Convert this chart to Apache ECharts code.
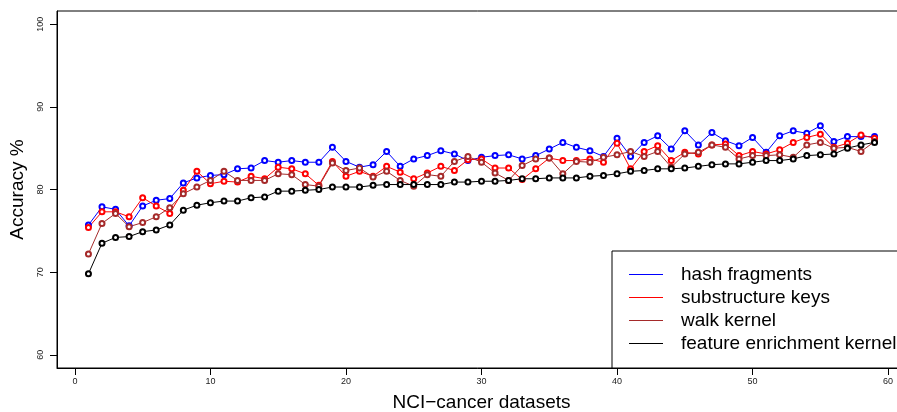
<!DOCTYPE html>
<html>
<head>
<meta charset="utf-8">
<script src="https://cdn.jsdelivr.net/npm/echarts@6/dist/echarts.min.js"></script>
<style>
  html, body { margin: 0; padding: 0; background: #fff; }
  #chart { width: 897px; height: 412px; }
</style>
</head>
<body>
<div id="chart"></div>
<script>
// datasets 1..59
const datasets = Array.from({ length: 59 }, (_, i) => i + 1)
const xTicks = [0, 10, 20, 30, 40, 50, 60]
const yTicks = [60, 70, 80, 90, 100]

const hashFragments = [
  75.7, 77.9, 77.6, 75.6, 78.0, 78.7, 78.9, 80.8, 81.4, 81.7,
  81.8, 82.5, 82.6, 83.5, 83.3, 83.5, 83.3, 83.3, 85.1, 83.4,
  82.7, 83.0, 84.6, 82.8, 83.7, 84.1, 84.7, 84.3, 83.5, 83.9,
  84.1, 84.2, 83.7, 84.1, 84.9, 85.7, 85.1, 84.7, 84.0, 86.2,
  84.0, 85.7, 86.5, 84.9, 87.1, 85.4, 86.9, 85.9, 85.3, 86.3,
  84.5, 86.5, 87.1, 86.8, 87.7, 85.8, 86.4, 86.4, 86.4
]
const substructureKeys = [
  75.4, 77.3, 77.3, 76.7, 79.0, 78.0, 77.1, 79.9, 82.2, 80.7,
  81.0, 80.9, 81.6, 81.3, 82.7, 82.5, 81.9, 80.5, 83.4, 81.6,
  82.2, 81.6, 82.8, 82.1, 81.3, 82.0, 82.8, 82.3, 83.6, 83.7,
  82.6, 82.6, 81.2, 82.5, 83.8, 83.5, 83.5, 83.7, 83.3, 85.6,
  82.5, 84.6, 85.3, 83.5, 84.5, 84.3, 85.4, 85.5, 84.1, 84.6,
  84.3, 84.8, 85.7, 86.3, 86.7, 85.1, 85.6, 86.6, 86.2
]
const walkKernel = [
  72.2, 75.9, 77.1, 75.5, 76.0, 76.7, 77.8, 79.5, 80.3, 81.1,
  82.2, 81.1, 81.1, 81.1, 81.9, 81.8, 80.6, 80.4, 83.2, 82.3,
  82.6, 81.5, 82.2, 81.1, 80.4, 81.8, 81.6, 83.4, 84.0, 83.3,
  82.0, 81.1, 82.9, 83.7, 83.8, 81.9, 83.4, 83.3, 83.9, 84.2,
  84.6, 84.0, 84.6, 82.7, 84.3, 84.5, 85.4, 85.1, 83.7, 84.1,
  84.1, 84.2, 83.9, 85.4, 85.7, 85.0, 85.1, 84.6, 85.8
]
const featureEnrichment = [
  69.8, 73.5, 74.2, 74.3, 74.9, 75.1, 75.7, 77.5, 78.1, 78.4,
  78.6, 78.6, 79.0, 79.1, 79.8, 79.8, 79.9, 80.0, 80.3, 80.3,
  80.3, 80.5, 80.6, 80.6, 80.6, 80.6, 80.6, 80.9, 80.9, 81.0,
  81.0, 81.1, 81.3, 81.3, 81.4, 81.4, 81.4, 81.6, 81.7, 81.9,
  82.2, 82.3, 82.5, 82.5, 82.6, 82.8, 83.0, 83.1, 83.1, 83.3,
  83.5, 83.5, 83.7, 84.1, 84.2, 84.3, 85.0, 85.4, 85.7
]

const seriesNames = ['hash fragments', 'substructure keys', 'walk kernel', 'feature enrichment kernel']
const seriesColors = ['#0000ff', '#ff0000', '#a52a2a', '#000000']
const seriesValues = [hashFragments, substructureKeys, walkKernel, featureEnrichment]

const font = 'Liberation Sans, Arial, Helvetica, sans-serif'

const makeSeries = (name, values, color) => ({
  name,
  type: 'line',
  data: datasets.map((d, i) => [d, values[i]]),
  symbol: 'emptyCircle',
  symbolSize: 5,
  lineStyle: { color, width: 1 },
  itemStyle: { color, borderWidth: 1 },
  z: 3
})

const myChart = echarts.init(document.getElementById('chart'))
myChart.setOption({
  animation: false,
  backgroundColor: '#fff',
  textStyle: { fontFamily: font },
  grid: {
    left: 57,
    top: 11,
    width: 849,
    height: 357,
    show: true,
    borderColor: '#000',
    borderWidth: 1,
    containLabel: false,
    outerBoundsMode: 'none'
  },
  xAxis: {
    type: 'value',
    min: -1.32,
    max: 61.32,
    name: 'NCI\u2212cancer datasets',
    nameLocation: 'middle',
    nameGap: 25,
    nameTextStyle: { fontSize: 19, color: '#000', fontFamily: font },
    axisLine: { show: true, onZero: false, lineStyle: { color: '#000', width: 1 } },
    axisTick: { show: true, inside: false, length: 7, customValues: xTicks, lineStyle: { color: '#000', width: 1 } },
    axisLabel: { customValues: xTicks, fontSize: 9, color: '#222', margin: 9 },
    splitLine: { show: false }
  },
  yAxis: {
    type: 'value',
    min: 58.4,
    max: 101.6,
    name: 'Accuracy %',
    nameLocation: 'middle',
    nameGap: 30,
    nameTextStyle: { fontSize: 19, color: '#000', fontFamily: font },
    axisLine: { show: true, onZero: false, lineStyle: { color: '#000', width: 1 } },
    axisTick: { show: true, inside: false, length: 7, customValues: yTicks, lineStyle: { color: '#000', width: 1 } },
    axisLabel: { customValues: yTicks, fontSize: 9, color: '#222', rotate: 90, margin: 12 },
    splitLine: { show: false }
  },
  legend: {
    orient: 'vertical',
    left: 624,
    top: 260,
    icon: 'rect',
    itemWidth: 34,
    itemHeight: 1,
    itemGap: 4,
    selectedMode: false,
    textStyle: { fontSize: 19, color: '#000', lineHeight: 19, padding: [0, 0, 0, 13], fontFamily: font },
    data: seriesNames.map((name, i) => ({ name, itemStyle: { color: seriesColors[i], borderWidth: 0 } }))
  },
  graphic: [
    {
      type: 'rect',
      shape: { x: 612, y: 251, width: 320, height: 117 },
      style: { fill: '#fff', stroke: '#000', lineWidth: 1 },
      z: 1
    }
  ],
  series: seriesNames.map((name, i) => makeSeries(name, seriesValues[i], seriesColors[i]))
})
</script>
</body>
</html>
